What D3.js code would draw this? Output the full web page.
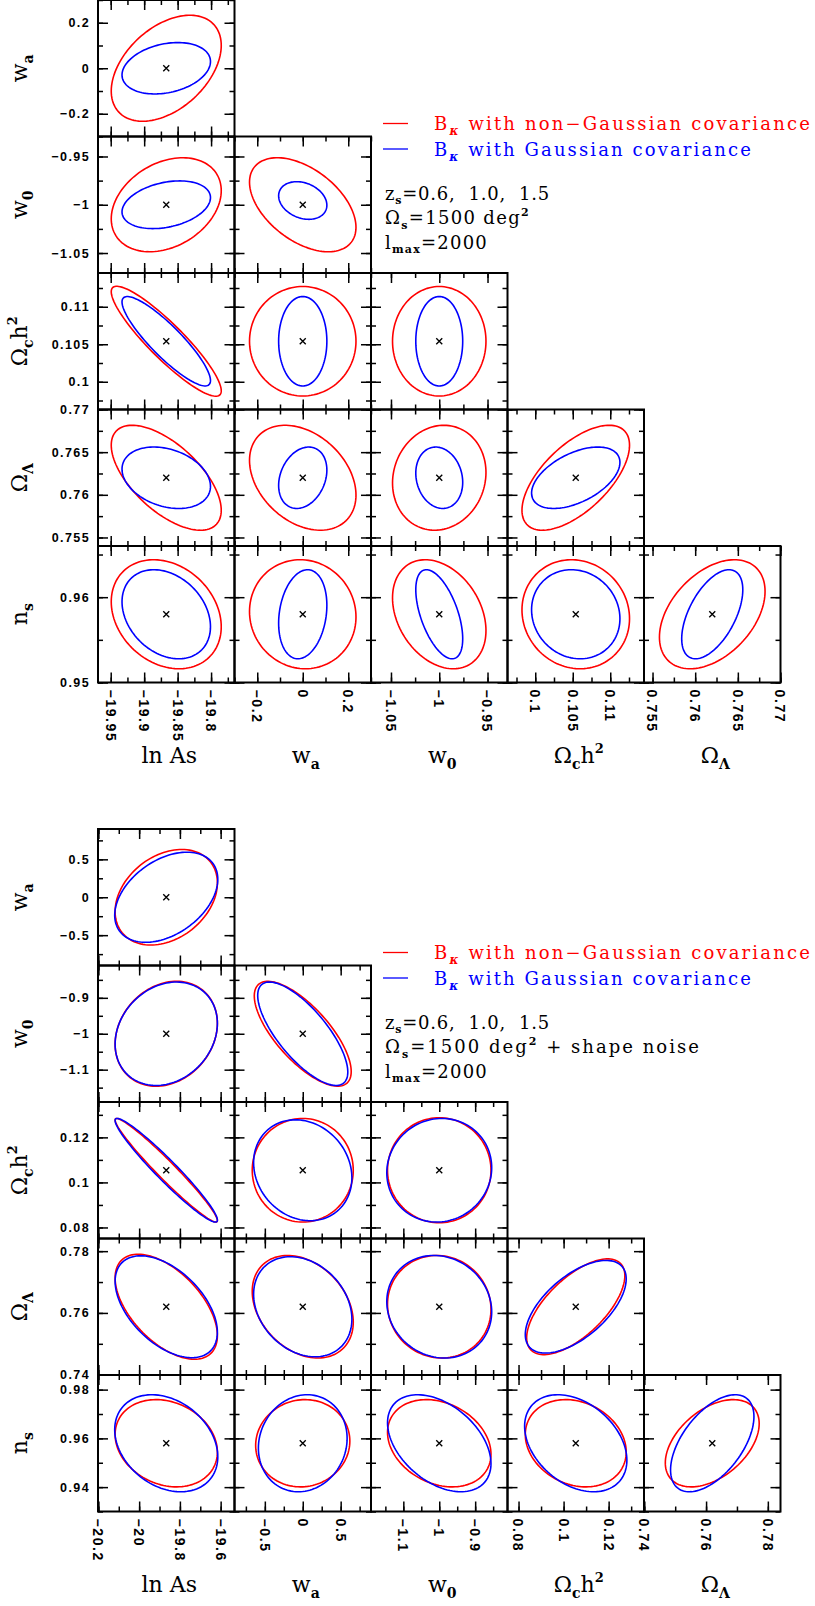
<!DOCTYPE html>
<html>
<head>
<meta charset="utf-8">
<script src="https://cdn.jsdelivr.net/npm/d3@7"></script>
<style>
body { margin: 0; background: #fff; }
svg { display: block; }
.ticklab { font-family: "Liberation Sans", Arial, sans-serif; font-weight: bold; font-size: 12.5px; letter-spacing: 1.4px; }
.xlab { font-size: 14px; letter-spacing: 1.6px; }
.title { font-family: "DejaVu Serif", serif; font-size: 22px; }
.note { font-family: "DejaVu Serif", serif; font-size: 18px; letter-spacing: 2.2px; white-space: pre; }
</style>
</head>
<body>
<div id="chart"></div>
<script>
// parameters: ln As, w_a, w_0, Omega_c h^2, Omega_Lambda, n_s
const fiducial = [-19.867, 0, -1, 0.1054, 0.762, 0.958];

// axis titles, pieces: [text, kind]
const titles = [
    [["ln As", ""]],
    [["w", ""], ["a", "sub"]],
    [["w", ""], ["0", "sub"]],
    [["Ω", ""], ["c", "sub"], ["h", ""], ["2", "sup"]],
    [["Ω", ""], ["Λ", "sub"]],
    [["n", ""], ["s", "sub"]]
];

// upper figure (no shape noise)
const halfRangeTop = [0.102, 0.3, 0.0707, 0.0091, 0.008, 0.008];
const majorTop = [[-19.95, -19.9, -19.85, -19.8], [-0.2, 0, 0.2], [-1.05, -1, -0.95],
    [0.1, 0.105, 0.11], [0.755, 0.76, 0.765, 0.77], [0.95, 0.96]];
const minorStepTop = [0.025, 0.1, 0.025, 0.0025, 0.0025, 0.005];

// lower figure (with shape noise)
const halfRangeBot = [0.335, 0.9, 0.19, 0.0303, 0.0221, 0.028];
const majorBot = [[-20.2, -20, -19.8, -19.6], [-0.5, 0, 0.5], [-1.1, -1, -0.9],
    [0.08, 0.1, 0.12], [0.74, 0.76, 0.78], [0.94, 0.96, 0.98]];
const minorStepBot = [0.1, 0.25, 0.05, 0.01, 0.01, 0.01];

// contours: [x param, y param, half width x, half width y, correlation, shift y]
const nonGaussTop = [
    [0, 1, 0.0822, 0.233, 0.43, 0],
    [0, 2, 0.0822, 0.0487, 0.3, 0],
    [1, 2, 0.234, 0.0487, -0.48, 0],
    [0, 3, 0.0822, 0.00733, -0.9, 0],
    [1, 3, 0.234, 0.0073, 0, 0],
    [2, 3, 0.0484, 0.0073, 0, 0],
    [0, 4, 0.0822, 0.00615, -0.62, 0],
    [1, 4, 0.234, 0.00615, -0.33, 0],
    [2, 4, 0.0484, 0.00615, 0.1, 0],
    [3, 4, 0.00717, 0.00615, 0.62, 0],
    [0, 5, 0.0822, 0.00639, -0.23, 0],
    [1, 5, 0.234, 0.00639, -0.05, 0],
    [2, 5, 0.0484, 0.00639, -0.3, 0],
    [3, 5, 0.00717, 0.00639, -0.08, 0],
    [4, 5, 0.00619, 0.00639, 0.42, 0]
];
const gaussTop = [
    [0, 1, 0.0661, 0.113, 0.26, 0],
    [0, 2, 0.0661, 0.0247, 0.3, 0],
    [1, 2, 0.106, 0.0195, -0.25, 0.0044],
    [0, 3, 0.0661, 0.00596, -0.88, 0],
    [1, 3, 0.106, 0.00596, 0, 0],
    [2, 3, 0.0243, 0.00596, 0, 0],
    [0, 4, 0.0661, 0.0036, -0.28, 0],
    [1, 4, 0.106, 0.0036, 0.25, 0],
    [2, 4, 0.0243, 0.0036, -0.15, 0],
    [3, 4, 0.00589, 0.0036, 0.5, 0],
    [0, 5, 0.0661, 0.00522, -0.28, 0],
    [1, 5, 0.106, 0.00522, 0.2, 0],
    [2, 5, 0.0243, 0.00522, -0.55, 0],
    [3, 5, 0.00589, 0.00522, -0.1, 0],
    [4, 5, 0.00358, 0.00522, 0.55, 0]
];
const nonGaussBot = [
    [0, 1, 0.251, 0.63, 0.3, 0],
    [0, 2, 0.251, 0.146, 0.2, 0],
    [1, 2, 0.639, 0.146, -0.72, 0],
    [0, 3, 0.251, 0.023, -0.97, 0],
    [1, 3, 0.666, 0.023, 0, 0],
    [2, 3, 0.144, 0.0233, 0, 0],
    [0, 4, 0.251, 0.017, -0.55, 0],
    [1, 4, 0.666, 0.0166, -0.3, 0],
    [2, 4, 0.144, 0.0166, -0.05, 0],
    [3, 4, 0.0218, 0.0155, 0.65, 0],
    [0, 5, 0.251, 0.0179, -0.2, 0],
    [1, 5, 0.621, 0.0179, 0.05, 0],
    [2, 5, 0.144, 0.0179, -0.25, 0],
    [3, 5, 0.0224, 0.0179, -0.2, 0],
    [4, 5, 0.0152, 0.0179, 0.45, 0]
];
const gaussBot = [
    [0, 1, 0.253, 0.594, 0.4, 0],
    [0, 2, 0.251, 0.144, 0.2, 0],
    [1, 2, 0.594, 0.144, -0.74, 0],
    [0, 3, 0.251, 0.023, -0.96, 0],
    [1, 3, 0.648, 0.0224, -0.15, 0],
    [2, 3, 0.146, 0.023, 0.05, 0],
    [0, 4, 0.251, 0.0165, -0.5, 0],
    [1, 4, 0.648, 0.0162, -0.25, 0],
    [2, 4, 0.146, 0.0166, -0.1, 0],
    [3, 4, 0.0224, 0.015, 0.6, 0],
    [0, 5, 0.253, 0.0199, -0.28, 0],
    [1, 5, 0.585, 0.0199, 0.1, 0],
    [2, 5, 0.144, 0.0199, -0.42, 0],
    [3, 5, 0.0227, 0.0199, -0.35, 0],
    [4, 5, 0.0135, 0.0199, 0.55, 0]
];

const legendItems = [
    { color: "#ff0000", text: " with non−Gaussian covariance", width: 378 },
    { color: "#0000ff", text: " with Gaussian covariance", width: 319 }
];
const notesTop = [
    [["z", ""], ["s", "sub"], ["=0.6,  1.0,  1.5", ""]],
    [["Ω", ""], ["s", "sub"], ["=1500 deg", ""], ["2", "sup"]],
    [["l", ""], ["max", "sub"], ["=2000", ""]]
];
const notesBot = [
    [["z", ""], ["s", "sub"], ["=0.6,  1.0,  1.5", ""]],
    [["Ω", ""], ["s", "sub"], ["=1500 deg", ""], ["2", "sup"], [" + shape noise", ""]],
    [["l", ""], ["max", "sub"], ["=2000", ""]]
];
// line widths in the original figure, used to space the letters
const notesWidthTop = [165, 145, 103];
const notesWidthBot = [165, 316, 103];

const W = 815, H = 1606;
const left = 98, S = 136.5;
const majorLen = 10, minorLen = 5;

const svg = d3.select("#chart").append("svg")
    .attr("width", W)
    .attr("height", H);

const angles = d3.range(0, 361, 3).map(a => a * Math.PI / 180);

function fmt(v) {
    return String(v).replace("-", "−");
}

// append text pieces with sub/superscripts
function addPieces(text, pieces, subSize, supSize) {
    let shift = 0;
    pieces.forEach(([t, kind]) => {
        const ts = text.append("tspan").text(t);
        let target = 0;
        if (kind === "sub") target = subSize * 0.45;
        if (kind === "sup") target = -supSize * 0.75;
        ts.attr("dy", target - shift);
        shift = target;
        if (kind === "sub") ts.attr("font-size", subSize).attr("font-weight", "bold");
        if (kind === "sup") ts.attr("font-size", supSize).attr("font-weight", "bold");
    });
}

// spread the letters so the line takes the wanted width
function fitWidth(t, target) {
    const n = t.text().length;
    for (let k = 0; k < 3; k++) {
        const w = t.node().getBBox().width;
        const ls = parseFloat(t.style("letter-spacing")) || 0;
        t.style("letter-spacing", (ls + (target - w) / n) + "px");
    }
}

function drawBlock(top, halfRange, major, minorStep, red, blue, notes, notesWidth) {
    const g = svg.append("g");
    const domains = fiducial.map((f, i) => [f - halfRange[i], f + halfRange[i]]);
    const minor = domains.map(([lo, hi], i) => {
        const st = minorStep[i];
        return d3.range(Math.ceil(lo / st - 1e-6), Math.floor(hi / st + 1e-6) + 1).map(k => k * st);
    });

    for (let r = 0; r < 5; r++) {
        for (let c = 0; c <= r; c++) {
            const yi = r + 1, xi = c;
            const x0 = left + c * S, y0 = top + r * S;
            const xs = d3.scaleLinear().domain(domains[xi]).range([x0, x0 + S]);
            const ys = d3.scaleLinear().domain(domains[yi]).range([y0 + S, y0]);
            const pg = g.append("g");

            // inward ticks on all four sides
            [[major, majorLen], [minor, minorLen]].forEach(([vals, len]) => {
                const sides = [
                    [d3.axisBottom(xs).tickValues(vals[xi]), `translate(0,${y0 + S})`],
                    [d3.axisTop(xs).tickValues(vals[xi]), `translate(0,${y0})`],
                    [d3.axisLeft(ys).tickValues(vals[yi]), `translate(${x0},0)`],
                    [d3.axisRight(ys).tickValues(vals[yi]), `translate(${x0 + S},0)`]
                ];
                sides.forEach(([ax, tr]) => {
                    pg.append("g")
                        .attr("transform", tr)
                        .call(ax.tickSizeInner(-len).tickSizeOuter(0).tickFormat(""))
                        .call(a => a.select(".domain").remove())
                        .selectAll("line")
                        .attr("stroke", "#000")
                        .attr("stroke-width", 1.5);
                });
            });

            // contours
            const line = d3.line().x(d => xs(d[0])).y(d => ys(d[1]));
            [[red, "#ff0000"], [blue, "#0000ff"]].forEach(([set, col]) => {
                const e = set.find(d => d[0] === xi && d[1] === yi);
                const [, , hx, hy, rho, dy] = e;
                const s = Math.sqrt(1 - rho * rho);
                const pts = angles.map(t => [
                    fiducial[xi] + hx * Math.cos(t),
                    fiducial[yi] + dy + hy * (rho * Math.cos(t) + s * Math.sin(t))
                ]);
                pg.append("path")
                    .attr("d", line(pts) + "Z")
                    .attr("fill", "none")
                    .attr("stroke", col)
                    .attr("stroke-width", 1.6);
            });

            // fiducial marker
            const cx = xs(fiducial[xi]), cy = ys(fiducial[yi]);
            pg.append("path")
                .attr("d", `M${cx - 3},${cy - 3}L${cx + 3},${cy + 3}M${cx - 3},${cy + 3}L${cx + 3},${cy - 3}`)
                .attr("stroke", "#000")
                .attr("stroke-width", 1.4);

            // frame
            pg.append("rect")
                .attr("x", x0).attr("y", y0)
                .attr("width", S).attr("height", S)
                .attr("fill", "none")
                .attr("stroke", "#000")
                .attr("stroke-width", 2);

            // y tick labels on first column
            if (c === 0) {
                pg.selectAll(".ylab")
                    .data(major[yi])
                    .join("text")
                    .attr("class", "ticklab")
                    .attr("x", x0 - 8)
                    .attr("y", d => ys(d))
                    .attr("dy", "0.36em")
                    .attr("text-anchor", "end")
                    .text(fmt);
                const t = g.append("text")
                    .attr("class", "title")
                    .attr("transform", `translate(27,${y0 + S / 2}) rotate(-90)`)
                    .attr("text-anchor", "middle");
                addPieces(t, titles[yi], 14, 13);
            }
            // x tick labels on bottom row
            if (r === 4) {
                pg.selectAll(".xlab")
                    .data(major[xi])
                    .join("text")
                    .attr("class", "ticklab xlab")
                    .attr("transform", d => `translate(${xs(d)},${y0 + S + 7}) rotate(90)`)
                    .attr("dy", "0.36em")
                    .text(fmt);
                const t = g.append("text")
                    .attr("class", "title")
                    .attr("x", x0 + S / 2 + 3)
                    .attr("y", y0 + S + 80)
                    .attr("text-anchor", "middle");
                addPieces(t, titles[xi], 14, 13);
            }
        }
    }

    // legend
    legendItems.forEach((d, i) => {
        const ly = top + 123.5 + i * 25.5;
        g.append("line")
            .attr("x1", 383).attr("x2", 408)
            .attr("y1", ly).attr("y2", ly)
            .attr("stroke", d.color)
            .attr("stroke-width", 1.3);
        const t = g.append("text")
            .attr("class", "note")
            .attr("x", 434)
            .attr("y", ly + 6.5)
            .attr("fill", d.color);
        t.append("tspan").text("B");
        t.append("tspan").text("κ").attr("font-size", 12).attr("font-weight", "bold")
            .attr("font-style", "italic").attr("dy", 5);
        t.append("tspan").text(d.text).attr("dy", -5);
        fitWidth(t, d.width);
    });

    notes.forEach((pieces, i) => {
        const t = g.append("text")
            .attr("class", "note")
            .attr("x", 385)
            .attr("y", top + 199.5 + i * 24.5)
            .attr("fill", "#000");
        addPieces(t, pieces, 11, 11);
        fitWidth(t, notesWidth[i]);
    });
}

drawBlock(0, halfRangeTop, majorTop, minorStepTop, nonGaussTop, gaussTop, notesTop, notesWidthTop);
drawBlock(829, halfRangeBot, majorBot, minorStepBot, nonGaussBot, gaussBot, notesBot, notesWidthBot);
</script>
</body>
</html>
